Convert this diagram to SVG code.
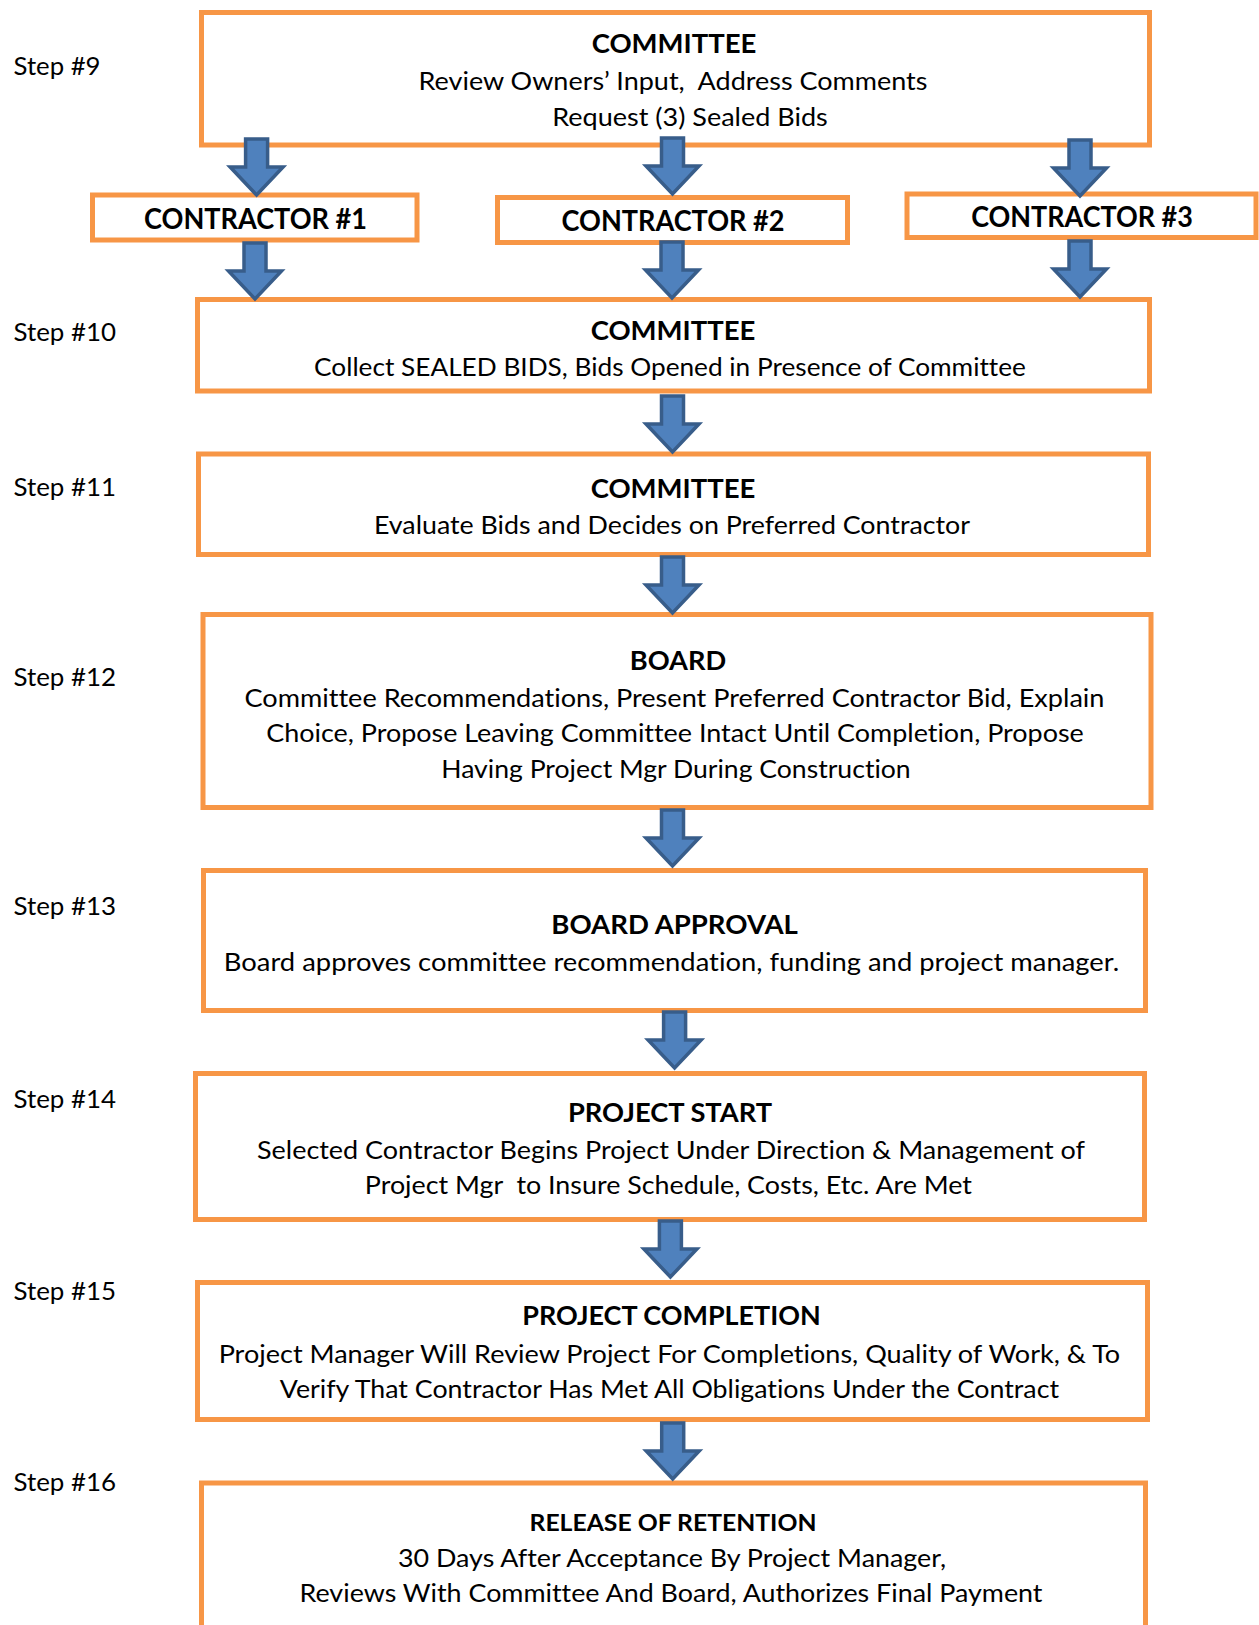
<svg xmlns="http://www.w3.org/2000/svg" xmlns:xlink="http://www.w3.org/1999/xlink" width="1259" height="1625" viewBox="0 0 1259 1625">
<style>
.box{fill:#FFFFFF;stroke:#F79646;stroke-width:5}
.arr{fill:#4F81BD;stroke:#385D8A;stroke-width:3.5;stroke-linejoin:miter}
text{font-family:Lato,"Liberation Sans",sans-serif;fill:#000000;font-variant-ligatures:none}
.b{font-size:25px;text-anchor:middle}
.t{font-size:26px;font-weight:bold;text-anchor:middle}
.c{font-size:28px;font-weight:bold;text-anchor:middle}
.s{font-size:25px}
</style>
<defs>
<path id="arrow" d="M -11,-56 L 11,-56 L 11,-28 L 26.5,-28 L 0,0 L -26.5,-28 L -11,-28 Z"/>
</defs>
<rect width="1259" height="1625" fill="#FFFFFF"/>

<g id="step-labels">
<text class="s" x="13.5" y="75" textLength="87" lengthAdjust="spacingAndGlyphs">Step #9</text>
<text class="s" x="13.5" y="341" textLength="102.6" lengthAdjust="spacingAndGlyphs">Step #10</text>
<text class="s" x="13.5" y="495.5" textLength="102.6" lengthAdjust="spacingAndGlyphs">Step #11</text>
<text class="s" x="13.5" y="686" textLength="102.6" lengthAdjust="spacingAndGlyphs">Step #12</text>
<text class="s" x="13.5" y="915" textLength="102.6" lengthAdjust="spacingAndGlyphs">Step #13</text>
<text class="s" x="13.5" y="1108" textLength="102.6" lengthAdjust="spacingAndGlyphs">Step #14</text>
<text class="s" x="13.5" y="1299.5" textLength="102.6" lengthAdjust="spacingAndGlyphs">Step #15</text>
<text class="s" x="13.5" y="1491" textLength="102.6" lengthAdjust="spacingAndGlyphs">Step #16</text>
</g>

<g id="step9">
<rect class="box" x="201.5" y="12.5" width="948" height="132.5"/>
<text class="t" x="674" y="53" textLength="164.7" lengthAdjust="spacingAndGlyphs">COMMITTEE</text>
<text class="b" x="673" y="89.5" textLength="508.8" lengthAdjust="spacingAndGlyphs" xml:space="preserve">Review Owners’ Input,  Address Comments</text>
<text class="b" x="690" y="126" textLength="275.6" lengthAdjust="spacingAndGlyphs">Request (3) Sealed Bids</text>
</g>

<g id="contractor1">
<rect class="box" x="92.5" y="195" width="324.5" height="45"/>
<text class="c" x="255.5" y="229" textLength="223" lengthAdjust="spacingAndGlyphs">CONTRACTOR #1</text>
</g>
<g id="contractor2">
<rect class="box" x="497.5" y="197.5" width="350" height="45"/>
<text class="c" x="673" y="231" textLength="223" lengthAdjust="spacingAndGlyphs">CONTRACTOR #2</text>
</g>
<g id="contractor3">
<rect class="box" x="907" y="194" width="349" height="43.5"/>
<text class="c" x="1082" y="227" textLength="221.7" lengthAdjust="spacingAndGlyphs">CONTRACTOR #3</text>
</g>

<g id="step10">
<rect class="box" x="197.5" y="299.5" width="952" height="91.5"/>
<text class="t" x="673" y="340" textLength="164.7" lengthAdjust="spacingAndGlyphs">COMMITTEE</text>
<text class="b" x="670" y="376.3" textLength="711.8" lengthAdjust="spacingAndGlyphs">Collect SEALED BIDS, Bids Opened in Presence of Committee</text>
</g>

<g id="step11">
<rect class="box" x="198.5" y="454" width="950" height="100.5"/>
<text class="t" x="673" y="497.5" textLength="164.7" lengthAdjust="spacingAndGlyphs">COMMITTEE</text>
<text class="b" x="672" y="534" textLength="596" lengthAdjust="spacingAndGlyphs">Evaluate Bids and Decides on Preferred Contractor</text>
</g>

<g id="step12">
<rect class="box" x="203" y="614.5" width="948" height="193"/>
<text class="t" x="678" y="669.5" textLength="96.4" lengthAdjust="spacingAndGlyphs">BOARD</text>
<text class="b" x="674.5" y="707" textLength="860" lengthAdjust="spacingAndGlyphs">Committee Recommendations, Present Preferred Contractor Bid, Explain</text>
<text class="b" x="675" y="742" textLength="817.6" lengthAdjust="spacingAndGlyphs">Choice, Propose Leaving Committee Intact Until Completion, Propose</text>
<text class="b" x="676" y="778.4" textLength="469.4" lengthAdjust="spacingAndGlyphs">Having Project Mgr During Construction</text>
</g>

<g id="step13">
<rect class="box" x="203.5" y="870.5" width="942" height="140"/>
<text class="t" x="674.6" y="933.8" textLength="246.6" lengthAdjust="spacingAndGlyphs">BOARD APPROVAL</text>
<text class="b" x="671.5" y="971" textLength="895.3" lengthAdjust="spacingAndGlyphs">Board approves committee recommendation, funding and project manager.</text>
</g>

<g id="step14">
<rect class="box" x="195.5" y="1073.5" width="949" height="146"/>
<text class="t" x="670" y="1122.4" textLength="204.2" lengthAdjust="spacingAndGlyphs">PROJECT START</text>
<text class="b" x="671" y="1158.6" textLength="828" lengthAdjust="spacingAndGlyphs">Selected Contractor Begins Project Under Direction &amp; Management of</text>
<text class="b" x="668.4" y="1194" textLength="607.2" lengthAdjust="spacingAndGlyphs" xml:space="preserve">Project Mgr  to Insure Schedule, Costs, Etc. Are Met</text>
</g>

<g id="step15">
<rect class="box" x="197.5" y="1282.5" width="950" height="137"/>
<text class="t" x="671.5" y="1324.5" textLength="298.4" lengthAdjust="spacingAndGlyphs">PROJECT COMPLETION</text>
<text class="b" x="669.4" y="1362.8" textLength="901.5" lengthAdjust="spacingAndGlyphs">Project Manager Will Review Project For Completions, Quality of Work, &amp; To</text>
<text class="b" x="669.4" y="1398" textLength="779.2" lengthAdjust="spacingAndGlyphs">Verify That Contractor Has Met All Obligations Under the Contract</text>
</g>

<g id="step16">
<rect class="box" x="201.5" y="1483" width="944" height="170"/>
<text class="t" x="673" y="1530.6" style="font-size:23px" textLength="287" lengthAdjust="spacingAndGlyphs">RELEASE OF RETENTION</text>
<text class="b" x="672" y="1567" textLength="548.1" lengthAdjust="spacingAndGlyphs">30 Days After Acceptance By Project Manager,</text>
<text class="b" x="671" y="1602" textLength="743" lengthAdjust="spacingAndGlyphs">Reviews With Committee And Board, Authorizes Final Payment</text>
</g>

<g id="connectors">
<use class="arr" href="#arrow" xlink:href="#arrow" x="256.6" y="195"/>
<use class="arr" href="#arrow" xlink:href="#arrow" x="672.5" y="194"/>
<use class="arr" href="#arrow" xlink:href="#arrow" x="1080" y="196"/>
<use class="arr" href="#arrow" xlink:href="#arrow" x="255" y="299"/>
<use class="arr" href="#arrow" xlink:href="#arrow" x="672" y="298"/>
<use class="arr" href="#arrow" xlink:href="#arrow" x="1080" y="297"/>
<use class="arr" href="#arrow" xlink:href="#arrow" x="672.5" y="452"/>
<use class="arr" href="#arrow" xlink:href="#arrow" x="672.5" y="613"/>
<use class="arr" href="#arrow" xlink:href="#arrow" x="672.5" y="866"/>
<use class="arr" href="#arrow" xlink:href="#arrow" x="674.6" y="1068"/>
<use class="arr" href="#arrow" xlink:href="#arrow" x="670.4" y="1277"/>
<use class="arr" href="#arrow" xlink:href="#arrow" x="672.7" y="1479"/>
</g>
</svg>
